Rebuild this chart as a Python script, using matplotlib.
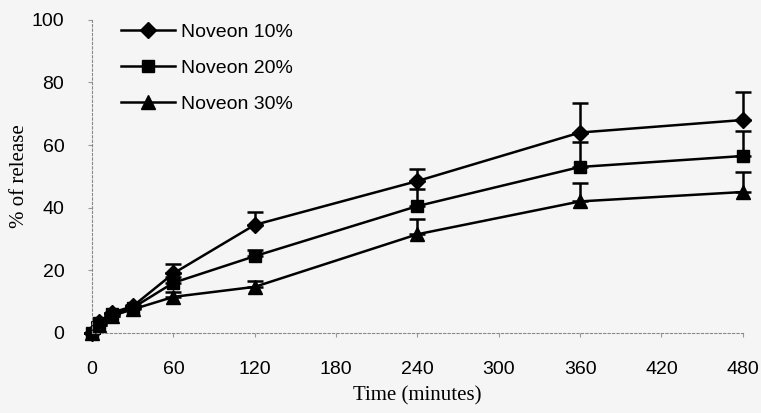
import numpy as np
import matplotlib.pyplot as plt

time = [0, 5, 15, 30, 60, 120, 240, 360, 480]
noveon10 = [0, 3.5, 6.5, 8.5, 19, 34.5, 48.5, 64, 68]
noveon20 = [0, 3, 6, 8, 16, 24.5, 40.5, 53, 56.5]
noveon30 = [0, 2.5, 5.5, 7.5, 11.5, 14.7, 31.5, 42, 45]
err10 = [0, 0, 0, 0.5, 3, 4, 4, 9.5, 9]
err20 = [0, 0, 0, 0.5, 2, 2, 5.5, 8, 8]
err30 = [0, 0, 0, 0.5, 1.5, 2, 5, 6, 6.5]
labels = ['Noveon 10%', 'Noveon 20%', 'Noveon 30%']
xticks = [0, 60, 120, 180, 240, 300, 360, 420, 480]
yticks = [0, 20, 40, 60, 80, 100]

sans = ['Liberation Sans Narrow', 'Liberation Sans', 'DejaVu Sans']
serif = ['Liberation Serif', 'DejaVu Serif']
bg = '#f5f5f5'

fig = plt.figure(figsize=(7.61, 4.13), dpi=100, facecolor=bg)
ax = fig.add_axes([0.121, 0.194, 0.855, 0.758])
ax.set_facecolor(bg)

series = [(noveon10, err10, 'D', 8), (noveon20, err20, 's', 8.5), (noveon30, err30, '^', 9.5)]
handles = []
for (vals, err, m, ms), lab in zip(series, labels):
    c = ax.errorbar(time, vals, yerr=[np.zeros(len(err)), err], color='black', lw=1.8,
                    marker=m, ms=ms, capsize=6, capthick=1.8, elinewidth=1.8, label=lab)
    handles.append(c[0])

ax.set_xlim(0, 480)
ax.set_ylim(0, 100)
ax.set_xticks(xticks)
ax.set_yticks(yticks)
ax.tick_params(axis='both', length=3, color='#999999', pad=17, labelsize=14)
for t in ax.get_xticklabels() + ax.get_yticklabels():
    t.set_family(sans)

for s in ['top', 'right']:
    ax.spines[s].set_visible(False)
for s in ['left', 'bottom']:
    ax.spines[s].set_linestyle((0, (2, 2)))
    ax.spines[s].set_color('#888888')
    ax.spines[s].set_linewidth(0.8)
for c in ax.get_children():
    if hasattr(c, 'set_clip_on'):
        c.set_clip_on(False)

ax.set_xlabel('Time (minutes)', family=serif, fontsize=15, labelpad=6)
ax.set_ylabel('% of release', family=serif, fontsize=15, labelpad=2)

ax.legend(handles=handles, labels=labels, loc='upper left', bbox_to_anchor=(0.017, 1.045),
          frameon=False, handlelength=2.8, handletextpad=0.3, labelspacing=0.95,
          prop={'family': sans, 'size': 14})

fig.savefig('out.png', dpi=100, facecolor=fig.get_facecolor())
